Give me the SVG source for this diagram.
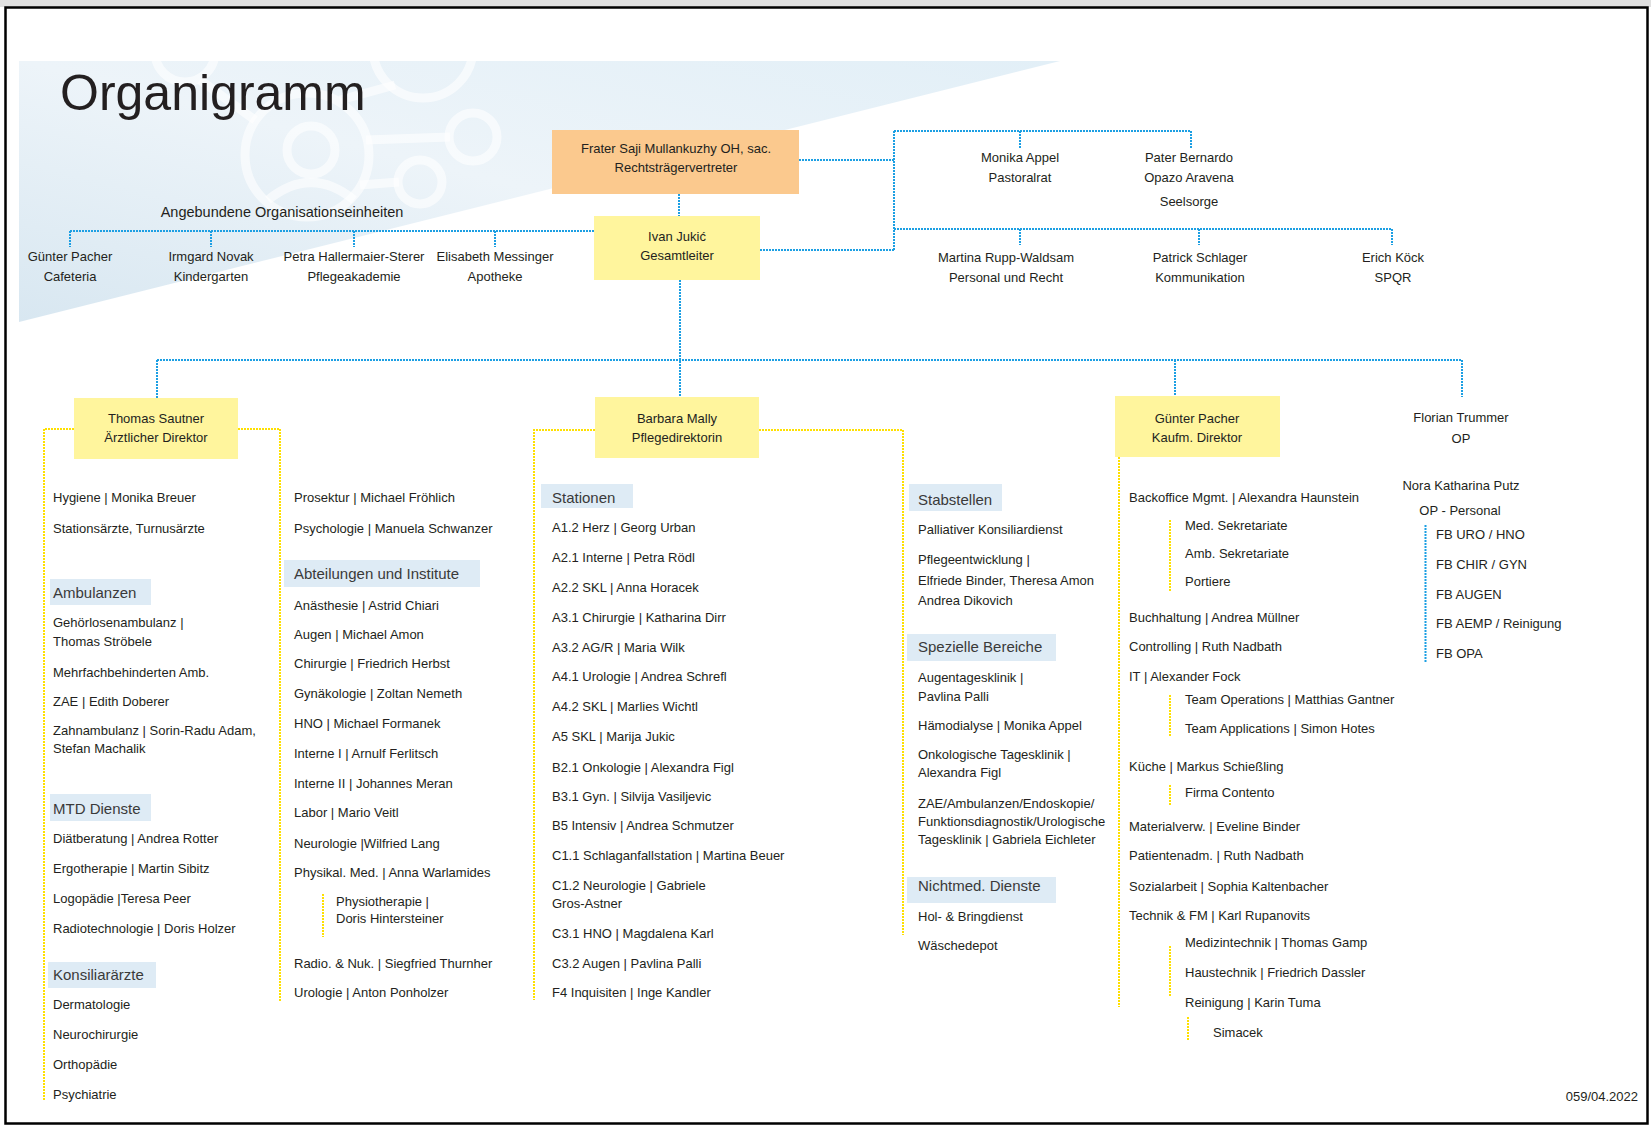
<svg xmlns="http://www.w3.org/2000/svg" width="1651" height="1129" viewBox="0 0 1651 1129">
<defs>
<style>
.t{font-family:"Liberation Sans",Arial,sans-serif;font-size:13px;fill:#231f20}
.c{text-anchor:middle}
.h{font-family:"Liberation Sans",Arial,sans-serif;font-size:15px;fill:#3a3a3a}
.hb{fill:#deebf5}
.bl{stroke:#1c9fe3;stroke-width:2;stroke-dasharray:2 1;fill:none}
.ye{stroke:#ffe000;stroke-width:2;stroke-dasharray:2 1;fill:none}
.ring{fill:none;stroke:#ffffff;stroke-width:9;opacity:0.6}
</style>
<linearGradient id="sw" x1="0" y1="1" x2="1" y2="0">
<stop offset="0" stop-color="#d8e7f1"/>
<stop offset="0.5" stop-color="#edf4f9"/>
<stop offset="1" stop-color="#e2eff7"/>
</linearGradient>
<clipPath id="swc"><polygon points="19,61 1060,61 19,322"/></clipPath>
</defs>
<rect x="0" y="0" width="1651" height="1129" fill="#ffffff"/>
<rect x="0" y="0" width="1651" height="7" fill="#e0e0e0"/>
<rect x="5.5" y="7.5" width="1642" height="1116" fill="#ffffff" stroke="#000000" stroke-width="2.5"/>

<g id="background">
<polygon points="19,61 1060,61 19,322" fill="url(#sw)"/>
<g clip-path="url(#swc)">
<circle class="ring" cx="185" cy="52" r="30"/>
<circle class="ring" cx="423" cy="48" r="50"/>
<circle class="ring" cx="307" cy="155" r="62"/>
<circle class="ring" cx="311" cy="150" r="24"/>
<path class="ring" d="M268 200 Q311 165 354 200"/>
<circle class="ring" cx="473" cy="137" r="24"/>
<circle class="ring" cx="420" cy="182" r="22"/>
<path class="ring" d="M366 140 L450 137 M360 185 L399 182 M340 100 L395 85 M200 80 L255 120"/>
</g>
<text x="60" y="110" style="font-family:'Liberation Sans',Arial,sans-serif;font-size:50px;fill:#231f20">Organigramm</text>
</g>

<g id="connectors">
<path class="bl" d="M679 194V216 M680 280V397 M157 360H1462 M157 360V398 M1175 360V396 M1462 360V397"/>
<path class="bl" d="M594 231H70 M70 231V247 M211 231V247 M354 231V247 M495 231V247"/>
<path class="bl" d="M760 250H894 M799 160H894 M894 131V250 M894 131H1191 M1020 131V148 M1191 131V148 M894 229H1392 M1020 229V245 M1199 229V245 M1392 229V245"/>
<path class="bl" d="M1425.5 525V663"/>
<path class="ye" d="M74 429H44V1100 M238 429H280V1002 M323 894V937"/>
<path class="ye" d="M595 430H534V1000 M759 430H903V935"/>
<path class="ye" d="M1119 457V1007 M1170 520V591 M1170 695V737 M1170 785V806 M1170 946V997 M1188 1017V1040"/>
</g>

<g id="n-frater">
<rect x="552" y="130" width="247" height="64" fill="#fbc98e"/>
<text class="t c" x="676" y="153">Frater Saji Mullankuzhy OH, sac.</text>
<text class="t c" x="676" y="172">Rechtsträgervertreter</text>
</g>
<g id="n-ivan">
<rect x="594" y="216" width="166" height="64" fill="#fff59d"/>
<text class="t c" x="677" y="241">Ivan Jukić</text>
<text class="t c" x="677" y="260">Gesamtleiter</text>
</g>

<g id="n-angebunden">
<text class="t c" x="282" y="217" style="font-size:14.5px">Angebundene Organisationseinheiten</text>
</g>
<g id="n-cafeteria"><text class="t c" x="70" y="261">Günter Pacher</text><text class="t c" x="70" y="281">Cafeteria</text></g>
<g id="n-kindergarten"><text class="t c" x="211" y="261">Irmgard Novak</text><text class="t c" x="211" y="281">Kindergarten</text></g>
<g id="n-pflegeakademie"><text class="t c" x="354" y="261">Petra Hallermaier-Sterer</text><text class="t c" x="354" y="281">Pflegeakademie</text></g>
<g id="n-apotheke"><text class="t c" x="495" y="261">Elisabeth Messinger</text><text class="t c" x="495" y="281">Apotheke</text></g>

<g id="n-pastoralrat"><text class="t c" x="1020" y="162">Monika Appel</text><text class="t c" x="1020" y="182">Pastoralrat</text></g>
<g id="n-seelsorge"><text class="t c" x="1189" y="162">Pater Bernardo</text><text class="t c" x="1189" y="182">Opazo Aravena</text><text class="t c" x="1189" y="206">Seelsorge</text></g>
<g id="n-personal"><text class="t c" x="1006" y="262">Martina Rupp-Waldsam</text><text class="t c" x="1006" y="282">Personal und Recht</text></g>
<g id="n-kommunikation"><text class="t c" x="1200" y="262">Patrick Schlager</text><text class="t c" x="1200" y="282">Kommunikation</text></g>
<g id="n-spqr"><text class="t c" x="1393" y="262">Erich Köck</text><text class="t c" x="1393" y="282">SPQR</text></g>

<g id="n-thomas">
<rect x="74" y="398" width="164" height="61" fill="#fff59d"/>
<text class="t c" x="156" y="423">Thomas Sautner</text>
<text class="t c" x="156" y="442">Ärztlicher Direktor</text>
</g>
<g id="n-thomas-list">
<text class="t" x="53" y="502">Hygiene | Monika Breuer</text>
<text class="t" x="53" y="533">Stationsärzte, Turnusärzte</text>
<rect class="hb" x="50" y="579" width="101" height="26"/>
<text class="h" x="53" y="598">Ambulanzen</text>
<text class="t" x="53" y="627">Gehörlosenambulanz |</text>
<text class="t" x="53" y="646">Thomas Ströbele</text>
<text class="t" x="53" y="677">Mehrfachbehinderten Amb.</text>
<text class="t" x="53" y="706">ZAE | Edith Doberer</text>
<text class="t" x="53" y="735">Zahnambulanz | Sorin-Radu Adam,</text>
<text class="t" x="53" y="753">Stefan Machalik</text>
<rect class="hb" x="50" y="794" width="101" height="27"/>
<text class="h" x="53" y="814">MTD Dienste</text>
<text class="t" x="53" y="843">Diätberatung | Andrea Rotter</text>
<text class="t" x="53" y="873">Ergotherapie | Martin Sibitz</text>
<text class="t" x="53" y="903">Logopädie |Teresa Peer</text>
<text class="t" x="53" y="933">Radiotechnologie | Doris Holzer</text>
<rect class="hb" x="48" y="962" width="108" height="26"/>
<text class="h" x="53" y="980">Konsiliarärzte</text>
<text class="t" x="53" y="1009">Dermatologie</text>
<text class="t" x="53" y="1039">Neurochirurgie</text>
<text class="t" x="53" y="1069">Orthopädie</text>
<text class="t" x="53" y="1099">Psychiatrie</text>
</g>
<g id="n-abteilungen">
<text class="t" x="294" y="502">Prosektur | Michael Fröhlich</text>
<text class="t" x="294" y="533">Psychologie | Manuela Schwanzer</text>
<rect class="hb" x="284" y="560" width="196" height="27"/>
<text class="h" x="294" y="579">Abteilungen und Institute</text>
<text class="t" x="294" y="610">Anästhesie | Astrid Chiari</text>
<text class="t" x="294" y="639">Augen | Michael Amon</text>
<text class="t" x="294" y="668">Chirurgie | Friedrich Herbst</text>
<text class="t" x="294" y="698">Gynäkologie | Zoltan Nemeth</text>
<text class="t" x="294" y="728">HNO | Michael Formanek</text>
<text class="t" x="294" y="758">Interne I | Arnulf Ferlitsch</text>
<text class="t" x="294" y="788">Interne II | Johannes Meran</text>
<text class="t" x="294" y="817">Labor | Mario Veitl</text>
<text class="t" x="294" y="848">Neurologie |Wilfried Lang</text>
<text class="t" x="294" y="877">Physikal. Med. | Anna Warlamides</text>
<text class="t" x="336" y="906">Physiotherapie |</text>
<text class="t" x="336" y="923">Doris Hintersteiner</text>
<text class="t" x="294" y="968">Radio. &amp; Nuk. | Siegfried Thurnher</text>
<text class="t" x="294" y="997">Urologie | Anton Ponholzer</text>
</g>

<g id="n-barbara">
<rect x="595" y="397" width="164" height="61" fill="#fff59d"/>
<text class="t c" x="677" y="423">Barbara Mally</text>
<text class="t c" x="677" y="442">Pflegedirektorin</text>
</g>
<g id="n-stationen">
<rect class="hb" x="541" y="484" width="92" height="24"/>
<text class="h" x="552" y="503">Stationen</text>
<text class="t" x="552" y="532">A1.2 Herz | Georg Urban</text>
<text class="t" x="552" y="562">A2.1 Interne | Petra Rödl</text>
<text class="t" x="552" y="592">A2.2 SKL | Anna Horacek</text>
<text class="t" x="552" y="622">A3.1 Chirurgie | Katharina Dirr</text>
<text class="t" x="552" y="652">A3.2 AG/R | Maria Wilk</text>
<text class="t" x="552" y="681">A4.1 Urologie | Andrea Schrefl</text>
<text class="t" x="552" y="711">A4.2 SKL | Marlies Wichtl</text>
<text class="t" x="552" y="741">A5 SKL | Marija Jukic</text>
<text class="t" x="552" y="772">B2.1 Onkologie | Alexandra Figl</text>
<text class="t" x="552" y="801">B3.1 Gyn. | Silvija Vasiljevic</text>
<text class="t" x="552" y="830">B5 Intensiv | Andrea Schmutzer</text>
<text class="t" x="552" y="860">C1.1 Schlaganfallstation | Martina Beuer</text>
<text class="t" x="552" y="890">C1.2 Neurologie | Gabriele</text>
<text class="t" x="552" y="908">Gros-Astner</text>
<text class="t" x="552" y="938">C3.1 HNO | Magdalena Karl</text>
<text class="t" x="552" y="968">C3.2 Augen | Pavlina Palli</text>
<text class="t" x="552" y="997">F4 Inquisiten | Inge Kandler</text>
</g>
<g id="n-stabstellen">
<rect class="hb" x="909" y="484" width="93" height="27"/>
<text class="h" x="918" y="505">Stabstellen</text>
<text class="t" x="918" y="534">Palliativer Konsiliardienst</text>
<text class="t" x="918" y="564">Pflegeentwicklung |</text>
<text class="t" x="918" y="585">Elfriede Binder, Theresa Amon</text>
<text class="t" x="918" y="605">Andrea Dikovich</text>
<rect class="hb" x="907" y="634" width="149" height="27"/>
<text class="h" x="918" y="652">Spezielle Bereiche</text>
<text class="t" x="918" y="682">Augentagesklinik |</text>
<text class="t" x="918" y="701">Pavlina Palli</text>
<text class="t" x="918" y="730">Hämodialyse | Monika Appel</text>
<text class="t" x="918" y="759">Onkologische Tagesklinik |</text>
<text class="t" x="918" y="777">Alexandra Figl</text>
<text class="t" x="918" y="808">ZAE/Ambulanzen/Endoskopie/</text>
<text class="t" x="918" y="826">Funktionsdiagnostik/Urologische</text>
<text class="t" x="918" y="844">Tagesklinik | Gabriela Eichleter</text>
<rect class="hb" x="907" y="877" width="149" height="26"/>
<text class="h" x="918" y="891">Nichtmed. Dienste</text>
<text class="t" x="918" y="921">Hol- &amp; Bringdienst</text>
<text class="t" x="918" y="950">Wäschedepot</text>
</g>

<g id="n-guenter">
<rect x="1115" y="396" width="165" height="61" fill="#fff59d"/>
<text class="t c" x="1197" y="423">Günter Pacher</text>
<text class="t c" x="1197" y="442">Kaufm. Direktor</text>
</g>
<g id="n-kaufm">
<text class="t" x="1129" y="502">Backoffice Mgmt. | Alexandra Haunstein</text>
<text class="t" x="1185" y="530">Med. Sekretariate</text>
<text class="t" x="1185" y="558">Amb. Sekretariate</text>
<text class="t" x="1185" y="586">Portiere</text>
<text class="t" x="1129" y="622">Buchhaltung | Andrea Müllner</text>
<text class="t" x="1129" y="651">Controlling | Ruth Nadbath</text>
<text class="t" x="1129" y="681">IT | Alexander Fock</text>
<text class="t" x="1185" y="704">Team Operations | Matthias Gantner</text>
<text class="t" x="1185" y="733">Team Applications | Simon Hotes</text>
<text class="t" x="1129" y="771">Küche | Markus Schießling</text>
<text class="t" x="1185" y="797">Firma Contento</text>
<text class="t" x="1129" y="831">Materialverw. | Eveline Binder</text>
<text class="t" x="1129" y="860">Patientenadm. | Ruth Nadbath</text>
<text class="t" x="1129" y="891">Sozialarbeit | Sophia Kaltenbacher</text>
<text class="t" x="1129" y="920">Technik &amp; FM | Karl Rupanovits</text>
<text class="t" x="1185" y="947">Medizintechnik | Thomas Gamp</text>
<text class="t" x="1185" y="977">Haustechnik | Friedrich Dassler</text>
<text class="t" x="1185" y="1007">Reinigung | Karin Tuma</text>
<text class="t" x="1213" y="1037">Simacek</text>
</g>

<g id="n-florian">
<text class="t c" x="1461" y="422">Florian Trummer</text>
<text class="t c" x="1461" y="443">OP</text>
</g>
<g id="n-op-personal">
<text class="t c" x="1461" y="490">Nora Katharina Putz</text>
<text class="t c" x="1460" y="515">OP - Personal</text>
<text class="t" x="1436" y="539">FB URO / HNO</text>
<text class="t" x="1436" y="569">FB CHIR / GYN</text>
<text class="t" x="1436" y="599">FB AUGEN</text>
<text class="t" x="1436" y="628">FB AEMP / Reinigung</text>
<text class="t" x="1436" y="658">FB OPA</text>
</g>

<text class="t" x="1638" y="1101" text-anchor="end">059/04.2022</text>
</svg>
